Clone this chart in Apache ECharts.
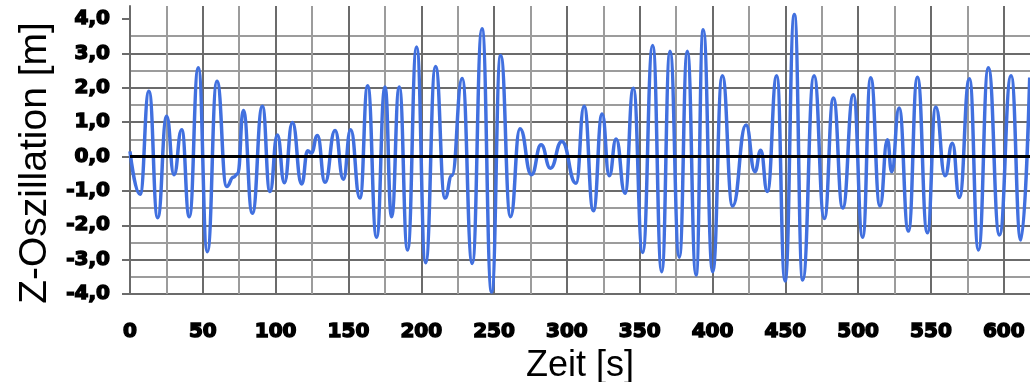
<!DOCTYPE html>
<html>
<head>
<meta charset="utf-8">
<script src="https://cdn.jsdelivr.net/npm/echarts@6/dist/echarts.min.js"></script>
<style>
  html, body { margin: 0; padding: 0; background: #ffffff; }
  #chart { width: 1030px; height: 382px; }
</style>
</head>
<body>
<div id="chart"></div>
<script>
// Extrema of the Z oscillation (time in s, value in m)
const times = [
  0, 6.9, 13.0, 19.0, 25.2, 30.2, 35.5, 40.7, 46.9, 53.1, 59.7, 66.4, 71.0, 74.0, 77.8,
  84.0, 90.9, 96.1, 101.2, 106.0, 111.5, 117.9, 122.0, 124.5, 128.7, 133.9, 140.8, 146.5,
  151.5, 157.9, 163.2, 169.3, 175.1, 179.6, 184.9, 190.6, 196.8, 203.0, 209.8, 216.3,
  221.0, 228.1, 235.0, 241.7, 248.3, 254.5, 261.3, 267.8, 275.7, 282.3, 288.7, 296.5,
  306.3, 311.8, 318.2, 324.2, 329.1, 333.8, 339.9, 345.6, 352.0, 358.9, 365.1, 370.8,
  377.2, 382.7, 388.7, 393.6, 400.1, 406.7, 413.8, 423.0, 429.1, 433.1, 437.6, 444.1,
  449.8, 456.2, 461.9, 469.7, 476.8, 483.0, 489.4, 496.7, 503.1, 508.6, 515.0, 520.1,
  523.0, 528.1, 534.5, 540.7, 547.5, 553.3, 559.7, 564.7, 569.5, 576.4, 582.6, 589.4,
  597.0, 605.0, 611.7, 617.8
];
const zValues = [
  0.15, -1.10, 1.90, -1.78, 1.17, -0.53, 0.78, -1.75, 2.58, -2.77, 2.19, -0.87, -0.60, -0.50, 1.34,
  -1.65, 1.46, -1.02, 0.63, -0.76, 0.99, -0.80, 0.17, 0.10, 0.61, -0.75, 0.76, -0.66,
  0.78, -1.21, 2.06, -2.35, 2.02, -1.75, 2.02, -2.72, 3.19, -3.09, 2.62, -1.21,
  -0.55, 2.27, -3.11, 3.72, -3.94, 2.94, -1.75, 0.81, -0.53, 0.34, -0.34, 0.44,
  -0.78, 1.46, -1.58, 1.24, -0.56, 0.51, -1.07, 1.99, -2.79, 3.23, -3.35, 3.06,
  -2.93, 3.06, -3.45, 3.69, -3.35, 2.35, -1.44, 0.92, -0.44, 0.18, -1.02, 2.35,
  -3.62, 4.13, -3.59, 2.35, -1.80, 1.70, -1.50, 1.80, -2.35, 2.29, -1.44, 0.49,
  -0.44, 1.41, -2.17, 2.31, -2.22, 1.44, -0.56, 0.39, -1.19, 2.26, -2.72, 2.58,
  -2.28, 2.35, -2.43, 2.30
];
const yTickValues = [-4, -3, -2, -1, 0, 1, 2, 3, 4];
const xTickValues = [0, 50, 100, 150, 200, 250, 300, 350, 400, 450, 500, 550, 600];
const xTitle = 'Zeit [s]';
const yTitle = 'Z-Oszillation [m]';

const seriesData = times.map((t, i) => [t, zValues[i]]);

const DARK = '#6b6b6b';
const LIGHT = '#9c9c9c';
const labelStyle = {
  fontFamily: 'DejaVu Sans',
  fontWeight: 'bold',
  fontSize: 20,
  color: '#000',
  textBorderColor: '#000',
  textBorderWidth: 1.5
};

const chart = echarts.init(document.getElementById('chart'), null, { renderer: 'canvas' });
chart.setOption({
  animation: false,
  backgroundColor: '#ffffff',
  grid: { left: 130, right: 0, top: 6, bottom: 88, containLabel: false, outerBoundsMode: 'none' },
  xAxis: {
    type: 'value',
    min: 0,
    max: 618,
    interval: 50,
    name: xTitle,
    nameLocation: 'middle',
    nameGap: 45,
    nameTextStyle: { fontFamily: 'Liberation Sans', fontSize: 36, color: '#000' },
    axisLine: { show: false },
    axisTick: { show: false },
    axisLabel: Object.assign({
      margin: 28,
      customValues: xTickValues,
      formatter: v => String(v)
    }, labelStyle),
    splitLine: { show: true, showMaxLine: false, lineStyle: { color: DARK, width: 2 } },
    minorTick: { show: false, splitNumber: 2 },
    minorSplitLine: { show: true, lineStyle: { color: LIGHT, width: 2 } }
  },
  yAxis: {
    type: 'value',
    min: -4,
    max: 4.38,
    interval: 1,
    name: yTitle,
    nameLocation: 'middle',
    nameGap: 72,
    nameTextStyle: { fontFamily: 'Liberation Sans', fontSize: 39, color: '#000', padding: [0, 26, 0, 0] },
    axisLine: { show: true, lineStyle: { color: DARK, width: 2 } },
    axisTick: { show: true, inside: false, length: 8, customValues: yTickValues, lineStyle: { color: DARK, width: 2 } },
    axisLabel: Object.assign({
      margin: 20,
      customValues: yTickValues,
      formatter: v => v.toFixed(1).replace('.', ',')
    }, labelStyle),
    splitLine: { show: true, showMaxLine: false, lineStyle: { color: DARK, width: 2 } },
    minorTick: { show: false, splitNumber: 2 },
    minorSplitLine: { show: true, lineStyle: { color: LIGHT, width: 2 } }
  },
  series: [{
    type: 'line',
    data: seriesData,
    showSymbol: false,
    smooth: 0.5,
    smoothMonotone: 'x',
    lineStyle: { color: '#4170df', width: 3.5 },
    itemStyle: { color: '#4170df' },
    markLine: {
      silent: true,
      symbol: ['none', 'none'],
      label: { show: false },
      lineStyle: { color: '#000', width: 3, type: 'solid' },
      data: [{ yAxis: 0 }]
    }
  }]
});
</script>
</body>
</html>
